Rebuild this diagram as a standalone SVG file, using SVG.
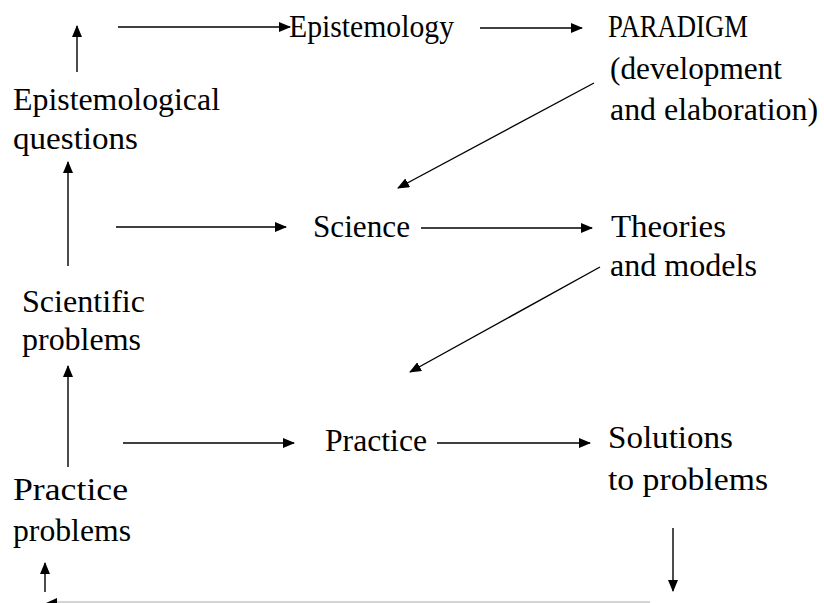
<svg xmlns="http://www.w3.org/2000/svg" width="824" height="603" viewBox="0 0 824 603">
  <style>
    .lbl { font-family: "Liberation Serif", "Times New Roman", serif; font-size: 31px; fill: #000; }
    .c line { stroke: #000; stroke-width: 1.4; fill: none; }
    .c .arr { marker-end: url(#ah); }
    .c .faint { stroke: #d4d4d4; stroke-width: 2; }
  </style>
  <defs>
    <marker id="ah" viewBox="0 0 12 10" refX="11" refY="5" markerWidth="12" markerHeight="10" markerUnits="userSpaceOnUse" orient="auto">
      <path d="M0,0 L12,5 L0,10 z" fill="#000"/>
    </marker>
  </defs>

  <!-- nodes -->
  <g class="lbl">
    <g id="epistemology"><text x="289" y="37" textLength="165" lengthAdjust="spacingAndGlyphs">Epistemology</text></g>
    <g id="paradigm">
      <text x="608" y="37" textLength="140" lengthAdjust="spacingAndGlyphs">PARADIGM</text>
      <text x="610" y="79" textLength="172" lengthAdjust="spacingAndGlyphs">(development</text>
      <text x="610" y="120" textLength="208" lengthAdjust="spacingAndGlyphs">and elaboration)</text>
    </g>
    <g id="epistemological-questions">
      <text x="13" y="110" textLength="207" lengthAdjust="spacingAndGlyphs">Epistemological</text>
      <text x="13" y="149" textLength="125" lengthAdjust="spacingAndGlyphs">questions</text>
    </g>
    <g id="science"><text x="313" y="237" textLength="97" lengthAdjust="spacingAndGlyphs">Science</text></g>
    <g id="theories">
      <text x="611" y="237" textLength="115" lengthAdjust="spacingAndGlyphs">Theories</text>
      <text x="610" y="276" textLength="147" lengthAdjust="spacingAndGlyphs">and models</text>
    </g>
    <g id="scientific-problems">
      <text x="22" y="312" textLength="123" lengthAdjust="spacingAndGlyphs">Scientific</text>
      <text x="22" y="350" textLength="119" lengthAdjust="spacingAndGlyphs">problems</text>
    </g>
    <g id="practice"><text x="325" y="451" textLength="102" lengthAdjust="spacingAndGlyphs">Practice</text></g>
    <g id="solutions">
      <text x="608" y="448" textLength="125" lengthAdjust="spacingAndGlyphs">Solutions</text>
      <text x="608" y="490" textLength="160" lengthAdjust="spacingAndGlyphs">to problems</text>
    </g>
    <g id="practice-problems">
      <text x="13" y="500" textLength="115" lengthAdjust="spacingAndGlyphs">Practice</text>
      <text x="13" y="541" textLength="118" lengthAdjust="spacingAndGlyphs">problems</text>
    </g>
  </g>

  <!-- connectors -->
  <g id="connectors" class="c">
    <line class="arr" x1="77" y1="72" x2="77" y2="26"/>
    <line class="arr" x1="118" y1="27" x2="290" y2="27"/>
    <line class="arr" x1="480" y1="28" x2="582" y2="28"/>
    <line class="arr" x1="594" y1="83" x2="398" y2="188"/>
    <line class="arr" x1="68" y1="266" x2="68" y2="162"/>
    <line class="arr" x1="116" y1="227" x2="286" y2="227"/>
    <line class="arr" x1="421" y1="228" x2="592" y2="228"/>
    <line class="arr" x1="600" y1="267" x2="410" y2="372"/>
    <line class="arr" x1="68" y1="467" x2="68" y2="366"/>
    <line class="arr" x1="123" y1="443" x2="294" y2="443"/>
    <line class="arr" x1="437" y1="443" x2="590" y2="443"/>
    <line class="arr" x1="673" y1="528" x2="673" y2="591"/>
    <line class="arr" x1="45" y1="592" x2="45" y2="563"/>
    <line class="faint" x1="54" y1="602" x2="650" y2="602"/>
    <path d="M46,603 L57,598 L57,603 z" fill="#000"/>
  </g>
</svg>
